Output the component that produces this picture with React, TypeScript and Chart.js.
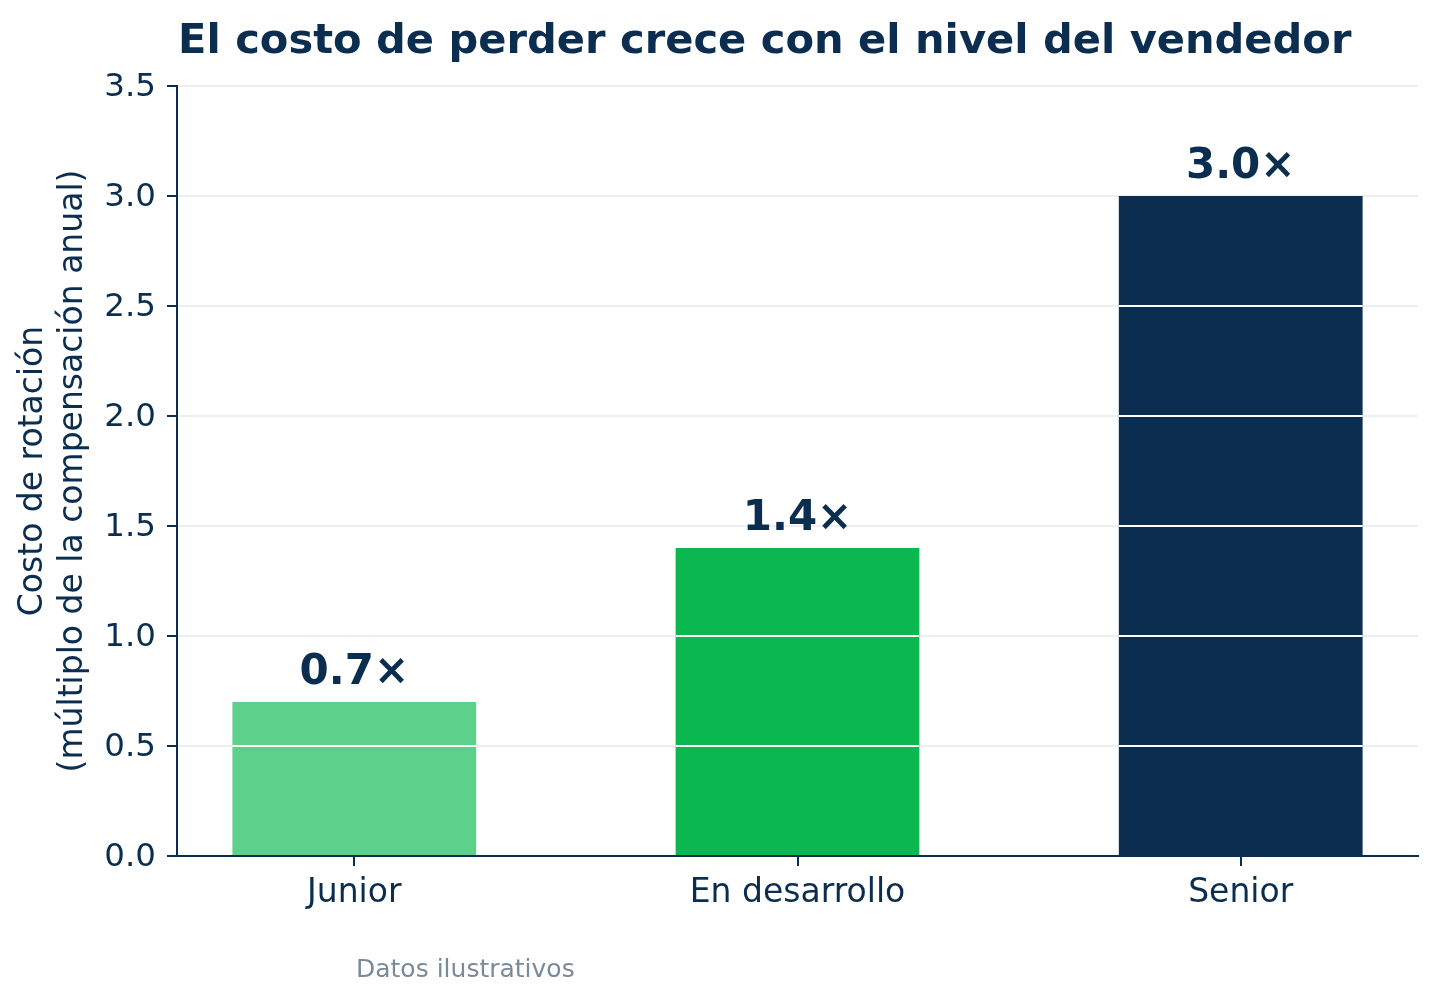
import { useEffect, useRef } from 'react';
import { Chart, registerables, type ChartConfiguration, type Plugin } from 'chart.js';

Chart.register(...registerables);

// ── Design tokens ──────────────────────────────────────────────────────────────

const C = {
  navy:   '#0b2d4f',
  green:  '#0bb84f',
  light:  '#5dd08b',
  grid:   '#eceff2',
  muted:  '#7b8a9b',
  white:  '#ffffff',
} as const;

const FONT = '"DejaVu Sans", "Noto Sans", sans-serif';

// ── Data ───────────────────────────────────────────────────────────────────────

const TITLE      = 'El costo de perder crece con el nivel del vendedor';
const Y_TITLE    = ['Costo de rotación', '(múltiplo de la compensación anual)'];
const FOOTNOTE   = 'Datos ilustrativos';
const CATEGORIES = ['Junior', 'En desarrollo', 'Senior'];
const VALUES     = [0.7, 1.4, 3.0];
const LABELS     = ['0.7×', '1.4×', '3.0×'];
const BAR_COLORS = [C.light, C.green, C.navy];
const Y_TICKS    = [0, 0.5, 1, 1.5, 2, 2.5, 3, 3.5];

// ── Plugins ────────────────────────────────────────────────────────────────────

// White grid lines drawn on top of the bars
const barGridPlugin: Plugin<'bar'> = {
  id: 'barGrid',
  afterDatasetsDraw(chart) {
    const { ctx } = chart;
    const y = chart.scales.y;
    const meta = chart.getDatasetMeta(0);
    ctx.save();
    ctx.strokeStyle = C.white;
    ctx.lineWidth = 2;
    meta.data.forEach((el, i) => {
      const { x, width } = el.getProps(['x', 'width'], true) as { x: number; width: number };
      Y_TICKS.forEach((t) => {
        if (t <= 0 || t >= VALUES[i]) return;
        const py = y.getPixelForValue(t);
        ctx.beginPath();
        ctx.moveTo(x - width / 2, py);
        ctx.lineTo(x + width / 2, py);
        ctx.stroke();
      });
    });
    ctx.restore();
  },
};

const valueLabelPlugin: Plugin<'bar'> = {
  id: 'valueLabels',
  afterDatasetsDraw(chart) {
    const { ctx } = chart;
    const meta = chart.getDatasetMeta(0);
    ctx.save();
    ctx.fillStyle = C.navy;
    ctx.font = `bold 42px ${FONT}`;
    ctx.textAlign = 'center';
    ctx.textBaseline = 'alphabetic';
    meta.data.forEach((el, i) => {
      ctx.fillText(LABELS[i], el.x, el.y - 18);
    });
    ctx.restore();
  },
};

const textPlugin: Plugin<'bar'> = {
  id: 'texts',
  afterDraw(chart) {
    const { ctx, chartArea } = chart;
    ctx.save();
    ctx.textBaseline = 'alphabetic';
    ctx.textAlign = 'left';
    ctx.fillStyle = C.navy;
    ctx.font = `bold 41.6px ${FONT}`;
    ctx.fillText(TITLE, chartArea.left + 1, 53);
    ctx.fillStyle = C.muted;
    ctx.font = `25px ${FONT}`;
    ctx.fillText(FOOTNOTE, 356, 977);
    ctx.restore();
  },
};

// ── Main Component ─────────────────────────────────────────────────────────────

export default function App() {
  const canvasRef = useRef<HTMLCanvasElement>(null);
  const chartRef  = useRef<Chart | null>(null);

  useEffect(() => {
    document.body.style.margin = '0';
    const canvas = canvasRef.current;
    if (!canvas) return;

    const config: ChartConfiguration<'bar'> = {
      type: 'bar',
      data: {
        datasets: [{
          data: VALUES.map((v, i) => ({ x: i, y: v })) as any,
          backgroundColor: BAR_COLORS,
          borderWidth: 0,
          barPercentage: 0.55,
          categoryPercentage: 1,
        }],
      },
      options: {
        responsive: false,
        animation: false,
        devicePixelRatio: 1,
        layout: { padding: { left: 0, right: 18, top: 86, bottom: 0 } },
        plugins: {
          legend:  { display: false },
          tooltip: { enabled: false },
          title:   { display: false },
        },
        scales: {
          x: {
            type: 'linear',
            min: -0.4,
            max: 2.4,
            offset: false,
            afterBuildTicks: (scale) => { scale.ticks = CATEGORIES.map((_, i) => ({ value: i })); },
            afterFit: (scale) => { scale.height = 146; },
            grid: { offset: false, drawOnChartArea: false, tickLength: 10, tickColor: C.navy, lineWidth: 2 },
            border: { display: true, color: C.navy, width: 2 },
            ticks: {
              color: C.navy,
              font: { family: FONT, size: 33 },
              padding: 8,
              callback: (v) => CATEGORIES[Number(v)] ?? '',
            },
          },
          y: {
            min: 0,
            max: 3.5,
            afterBuildTicks: (scale) => { scale.ticks = Y_TICKS.map((v) => ({ value: v })); },
            afterFit: (scale) => { scale.width = 177; },
            grid: { color: C.grid, tickColor: C.navy, tickLength: 10, lineWidth: 2 },
            border: { display: true, color: C.navy, width: 2 },
            ticks: {
              color: C.navy,
              font: { family: FONT, size: 32.5 },
              padding: 11,
              labelOffset: 2,
              callback: (v) => Number(v).toFixed(1),
            },
            title: {
              display: true,
              text: Y_TITLE,
              color: C.navy,
              font: { family: FONT, size: 33, lineHeight: 1.2 },
              padding: { top: 14, bottom: 0 },
            },
          },
        },
      },
      plugins: [barGridPlugin, valueLabelPlugin, textPlugin],
    };

    if (chartRef.current) chartRef.current.destroy();
    chartRef.current = new Chart(canvas, config);

    return () => { chartRef.current?.destroy(); chartRef.current = null; };
  }, []);

  return (
    <div style={{ width: 1436, height: 1002, background: '#ffffff' }}>
      <canvas ref={canvasRef} width={1436} height={1002} />
    </div>
  );
}
